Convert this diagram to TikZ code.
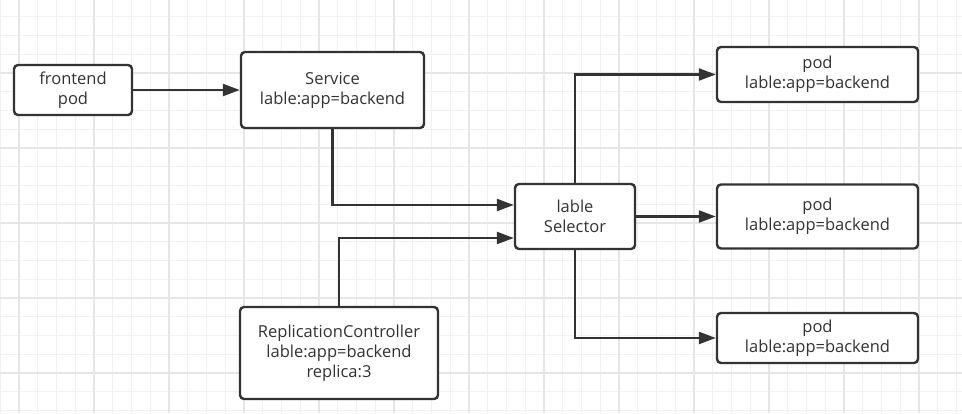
\documentclass[tikz,border=0pt]{standalone}
\usepackage{fontspec}
\setmainfont{Open Sans}
\usepackage{tikz}
\usetikzlibrary{arrows.meta}

\definecolor{ink}{HTML}{333333}
\definecolor{gridminor}{HTML}{F1F1F1}
\definecolor{gridmajor}{HTML}{E6E6E6}

\tikzset{
	box/.style={draw=ink, line width=2.4pt, rounded corners=4pt, fill=white,
		align=center, text=ink, inner sep=0pt,
		font=\fontsize{16.5pt}{20pt}\selectfont},
	link/.style={draw=ink, line width=2.4pt, ->},
}

\begin{document}
\begin{tikzpicture}[x=1pt, y=-1pt, >={Triangle[length=17pt,width=12pt]}]
			%%%	Griglia di sfondo
			\useasboundingbox (0,0) rectangle (962,413);
			\fill[white] (0,0) rectangle (962,413);
			\foreach \i in {0,...,51}
			\draw[gridminor, line width=1pt] ({0.25+18.75*\i},0) -- ++(0,413);
			\foreach \i in {0,...,22}
			\draw[gridminor, line width=1pt] (0,{-2+18.75*\i}) -- ++(962,0);
			\foreach \i in {0,...,12}
			\draw[gridmajor, line width=1.2pt] ({19+75*\i},0) -- ++(0,413);
			\foreach \i in {0,...,5}
			\draw[gridmajor, line width=1.2pt] (0,{-2+75*\i}) -- ++(962,0);
			%%%	Nodi
			\node[box, minimum width=118pt, minimum height=50pt] (front) at (73,90) {frontend\\pod};
			\node[box, minimum width=183pt, minimum height=76pt] (svc) at (332.5,90) {Service\\lable:app=backend};
			\node[box, minimum width=120pt, minimum height=65pt] (sel) at (575,216.5) {lable\\Selector};
			\node[box, minimum width=198pt, minimum height=92pt] (rc) at (339,353) {ReplicationController\\lable:app=backend\\replica:3};
			\node[box, minimum width=201pt, minimum height=55pt] (pod1) at (817.5,74.5) {pod\\lable:app=backend};
			\node[box, minimum width=201pt, minimum height=64pt] (pod2) at (817.5,216.5) {pod\\lable:app=backend};
			\node[box, minimum width=201pt, minimum height=50pt] (pod3) at (817.5,338) {pod\\lable:app=backend};
			%%%	Frecce
			\draw[link] (front) -- (svc);
			\draw[link] (svc.south) |- ([yshift=11.5pt]sel.west);
			\draw[link] (rc.north) |- ([yshift=-21.5pt]sel.west);
			\draw[link] (sel.north) |- (pod1.west);
			\draw[link] (sel.east) -- (pod2.west);
			\draw[link] (sel.south) |- (pod3.west);
		\end{tikzpicture}
\end{document}
